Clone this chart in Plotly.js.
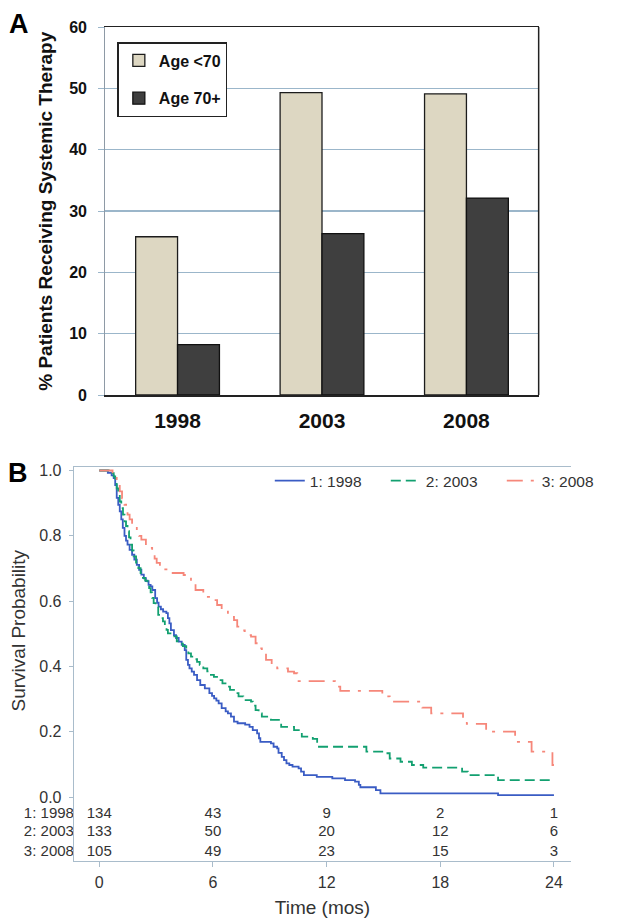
<!DOCTYPE html>
<html>
<head>
<meta charset="utf-8">
<script src="https://cdn.plot.ly/plotly-3.0.1.min.js"></script>
<style>html,body{margin:0;padding:0;background:#fff;}#chart{width:618px;height:920px;}</style>
</head>
<body>
<div id="chart"></div>
<script>
// ---------- Panel A data ----------
const years = ['1998', '2003', '2008'];
const pctUnder70 = [25.8, 49.3, 49.1];
const pct70Plus = [8.2, 26.3, 32.1];
const barNames = ['Age <70', 'Age 70+'];

// ---------- Panel B data (Kaplan-Meier steps) ----------
const t1998 = [0,0.45,0.65,0.76,0.84,0.92,1.0,1.08,1.16,1.24,1.33,1.41,1.49,1.6,1.73,1.85,1.98,2.1,2.22,2.35,2.46,2.6,2.71,2.8,2.95,3.05,3.13,3.25,3.37,3.54,3.62,3.7,3.78,3.94,4.05,4.19,4.35,4.51,4.59,4.68,4.76,4.88,5.0,5.16,5.33,5.57,5.81,5.95,6.06,6.18,6.3,6.46,6.67,6.79,6.95,7.11,7.3,7.7,7.93,8.1,8.33,8.43,8.5,9.06,9.2,9.39,9.46,9.63,9.75,9.88,10.03,10.2,10.52,10.65,10.8,11.48,12.3,12.97,13.5,13.7,13.78,14.6,14.84,21.05,24];
const s1998 = [1.0,0.993,0.985,0.977,0.955,0.916,0.895,0.875,0.85,0.824,0.8,0.785,0.773,0.757,0.742,0.727,0.711,0.696,0.681,0.67,0.661,0.65,0.645,0.634,0.609,0.595,0.583,0.575,0.568,0.563,0.548,0.532,0.511,0.496,0.487,0.476,0.466,0.45,0.42,0.405,0.394,0.384,0.374,0.358,0.343,0.333,0.318,0.31,0.302,0.295,0.287,0.272,0.262,0.256,0.246,0.231,0.226,0.222,0.215,0.205,0.195,0.18,0.169,0.164,0.154,0.149,0.135,0.123,0.113,0.103,0.098,0.093,0.088,0.078,0.067,0.062,0.057,0.052,0.047,0.037,0.03,0.021,0.011,0.006,0.006];

const t2003 = [0,0.5,0.76,0.84,0.92,1.0,1.08,1.16,1.25,1.33,1.41,1.49,1.57,1.65,1.73,1.81,1.94,2.06,2.18,2.3,2.42,2.55,2.63,2.71,2.79,2.87,2.97,3.11,3.21,3.36,3.46,3.55,3.62,3.85,4.09,4.19,4.41,4.59,4.7,4.84,5.0,5.16,5.3,5.49,5.7,5.89,6.05,6.3,6.5,6.71,6.9,7.11,7.35,7.6,8.01,8.1,8.25,8.41,8.58,9.06,9.6,10.28,10.69,11.27,11.5,14.1,15.16,15.33,15.9,16.5,17.1,19.15,19.45,21.05,24];
const s2003 = [1.0,0.992,0.982,0.967,0.945,0.926,0.905,0.885,0.865,0.844,0.83,0.814,0.795,0.773,0.755,0.737,0.718,0.701,0.686,0.671,0.663,0.655,0.64,0.627,0.61,0.594,0.583,0.558,0.548,0.538,0.525,0.512,0.501,0.492,0.477,0.47,0.462,0.45,0.44,0.43,0.422,0.414,0.405,0.394,0.385,0.374,0.368,0.358,0.348,0.338,0.328,0.318,0.308,0.297,0.292,0.28,0.266,0.256,0.246,0.236,0.215,0.205,0.185,0.178,0.154,0.139,0.134,0.118,0.108,0.098,0.09,0.078,0.067,0.052,0.052];

const t2008 = [0,0.7,0.92,1.08,1.2,1.33,1.49,1.6,1.73,1.98,2.1,2.22,2.46,2.79,2.92,3.03,3.2,3.36,3.6,4.45,4.59,4.84,5.08,5.49,5.89,6.22,6.46,6.79,7.11,7.28,7.5,7.68,8.01,8.25,8.45,8.58,8.8,9.1,9.39,9.96,10.28,10.45,12.44,12.72,14.94,15.33,17.05,17.52,19.2,19.4,20.42,21.95,22.82,23.92,24];
const s2008 = [1.0,0.99,0.957,0.936,0.915,0.895,0.865,0.85,0.834,0.814,0.8,0.788,0.763,0.742,0.73,0.717,0.705,0.697,0.686,0.68,0.675,0.655,0.634,0.613,0.603,0.588,0.573,0.552,0.542,0.522,0.51,0.496,0.491,0.471,0.455,0.44,0.42,0.4,0.394,0.384,0.379,0.355,0.338,0.325,0.308,0.292,0.274,0.256,0.24,0.224,0.2,0.169,0.139,0.098,0.098];

const groupLabels = ['1: 1998', '2: 2003', '3: 2008'];
const riskTimes = [0, 6, 12, 18, 24];
const risk1998 = [134, 43, 9, 2, 1];
const risk2003 = [133, 50, 20, 12, 6];
const risk2008 = [105, 49, 23, 15, 3];

// ---------- styling ----------
const FONT = 'Liberation Sans, Arial, sans-serif';
const axisGray = '#a9bccb';
const lineColors = ['#3a5cc4', '#12a070', '#f6877a'];
const dashes = ['solid', '10px,5px', '16px,8px,3px,8px'];
const rowY = [-0.052, -0.109, -0.168];   // layout rows of the at-risk table
const labelX = -1.34;                     // left edge of panel B axis

const traces = [];
traces.push({
  type: 'bar', x: years, y: pctUnder70, name: barNames[0],
  xaxis: 'x', yaxis: 'y', legend: 'legend', legendgroup: 'a1',
  marker: {color: '#ddd7c2', line: {color: '#1c1c1c', width: 1.3}}
});
traces.push({
  type: 'bar', x: years, y: pct70Plus, name: barNames[1],
  xaxis: 'x', yaxis: 'y', legend: 'legend', legendgroup: 'a2',
  marker: {color: '#3f3f3f', line: {color: '#111', width: 1.3}}
});

const kmT = [t1998, t2003, t2008];
const kmS = [s1998, s2003, s2008];
for (let i = 0; i < 3; i++) {
  traces.push({
    type: 'scatter', mode: 'lines', x: kmT[i], y: kmS[i], name: groupLabels[i],
    xaxis: 'x2', yaxis: 'y2', legend: 'legend2',
    line: {shape: 'hv', color: lineColors[i], width: 1.8, dash: dashes[i]}
  });
}

const riskRows = [risk1998, risk2003, risk2008];
for (let i = 0; i < 3; i++) {
  traces.push({
    type: 'scatter', mode: 'text', x: riskTimes, y: riskTimes.map(() => rowY[i]),
    text: riskRows[i].map(String), textposition: 'middle center',
    textfont: {family: FONT, size: 15, color: '#333'},
    xaxis: 'x2', yaxis: 'y2', showlegend: false, hoverinfo: 'skip', cliponaxis: false
  });
  traces.push({
    type: 'scatter', mode: 'text', x: [labelX], y: [rowY[i]],
    text: [groupLabels[i]], textposition: 'middle left',
    textfont: {family: FONT, size: 15, color: '#333'},
    xaxis: 'x2', yaxis: 'y2', showlegend: false, hoverinfo: 'skip', cliponaxis: false
  });
}

const W = 618, H = 920;
const layout = {
  width: W, height: H,
  margin: {l: 0, r: 0, t: 0, b: 0},
  paper_bgcolor: '#fff', plot_bgcolor: '#fff',
  font: {family: FONT, color: '#222'},
  barmode: 'group', bargap: 0.42, bargroupgap: 0,
  xaxis: {
    domain: [114 / W, 583 / W], anchor: 'y', type: 'category',
    showline: true, linecolor: '#222', linewidth: 1.5, mirror: true,
    ticks: '', showgrid: false, ticklabelstandoff: 6,
    tickfont: {family: FONT, size: 21, color: '#111', weight: 'bold'}
  },
  yaxis: {
    domain: [1 - 395 / H, 1 - 27 / H], anchor: 'x', range: [0, 60],
    tickvals: [0, 10, 20, 30, 40, 50, 60],
    showline: true, linecolor: '#8e9aa6', linewidth: 1.2,
    showgrid: true, gridcolor: '#9bb6ca', gridwidth: 1.2, zeroline: false,
    ticks: 'outside', ticklen: 6, tickcolor: '#9bb6ca', ticklabelstandoff: 8,
    tickfont: {family: FONT, size: 16, color: '#111', weight: 'bold'}
  },
  xaxis2: {
    domain: [80 / W, 1], anchor: 'y2', range: [-1.34, 24.9],
    tickvals: riskTimes, ticktext: riskTimes.map(String),
    showline: true, linecolor: axisGray, linewidth: 1.2, mirror: true,
    ticks: 'outside', ticklen: 5, tickcolor: axisGray, showgrid: false, zeroline: false,
    ticklabelstandoff: 2,
    tickfont: {family: FONT, size: 16, color: '#333'},
    title: {text: 'Time (mos)', standoff: 10, font: {family: FONT, size: 19, color: '#333'}}
  },
  yaxis2: {
    domain: [1 - 860.7 / H, 1 - 466.7 / H], anchor: 'x2', range: [-0.195, 1.0116],
    tickvals: [0, 0.2, 0.4, 0.6, 0.8, 1.0], ticktext: ['0.0', '0.2', '0.4', '0.6', '0.8', '1.0'],
    showline: true, linecolor: axisGray, linewidth: 1.2,
    ticks: 'outside', ticklen: 4, tickcolor: axisGray, showgrid: false, zeroline: false,
    ticklabelstandoff: 4,
    tickfont: {family: FONT, size: 16, color: '#333'}
  },
  legend: {
    x: 127 / W, y: 1 - 42 / H, xanchor: 'left', yanchor: 'top',
    bgcolor: '#fff', bordercolor: '#222', borderwidth: 1.5,
    traceorder: 'grouped', tracegroupgap: 14,
    font: {family: FONT, size: 16, color: '#111', weight: 'bold'}
  },
  legend2: {
    orientation: 'h', x: 292 / W, y: 1 - 481 / H, xanchor: 'left', yanchor: 'middle',
    entrywidth: 71, entrywidthmode: 'pixels',
    bgcolor: 'rgba(0,0,0,0)', borderwidth: 0,
    font: {family: FONT, size: 15.5, color: '#333'}
  },
  shapes: [
    {type: 'line', xref: 'x domain', yref: 'y domain', x0: 1, x1: 1, y0: 0, y1: 1,
     line: {color: '#222', width: 1.5}}
  ],
  annotations: [
    {text: 'A', xref: 'paper', yref: 'paper', x: 8 / W, y: 1 - 7 / H, xanchor: 'left', yanchor: 'top',
     showarrow: false, font: {family: FONT, size: 27, color: '#000', weight: 'bold'}},
    {text: 'B', xref: 'paper', yref: 'paper', x: 6 / W, y: 1 - 456 / H, xanchor: 'left', yanchor: 'top',
     showarrow: false, font: {family: FONT, size: 27, color: '#000', weight: 'bold'}},
    {text: '% Patients Receiving Systemic Therapy', xref: 'paper', yref: 'paper',
     x: 49 / W, y: 1 - 211.5 / H, xanchor: 'center', yanchor: 'middle', textangle: -90,
     showarrow: false, font: {family: FONT, size: 19, color: '#111', weight: 'bold'}},
    {text: 'Survival Probability', xref: 'paper', yref: 'paper',
     x: 20 / W, y: 1 - 630 / H, xanchor: 'center', yanchor: 'middle', textangle: -90,
     showarrow: false, font: {family: FONT, size: 19, color: '#333'}}
  ]
};

Plotly.newPlot('chart', traces, layout, {staticPlot: true, displayModeBar: false});
</script>
</body>
</html>
